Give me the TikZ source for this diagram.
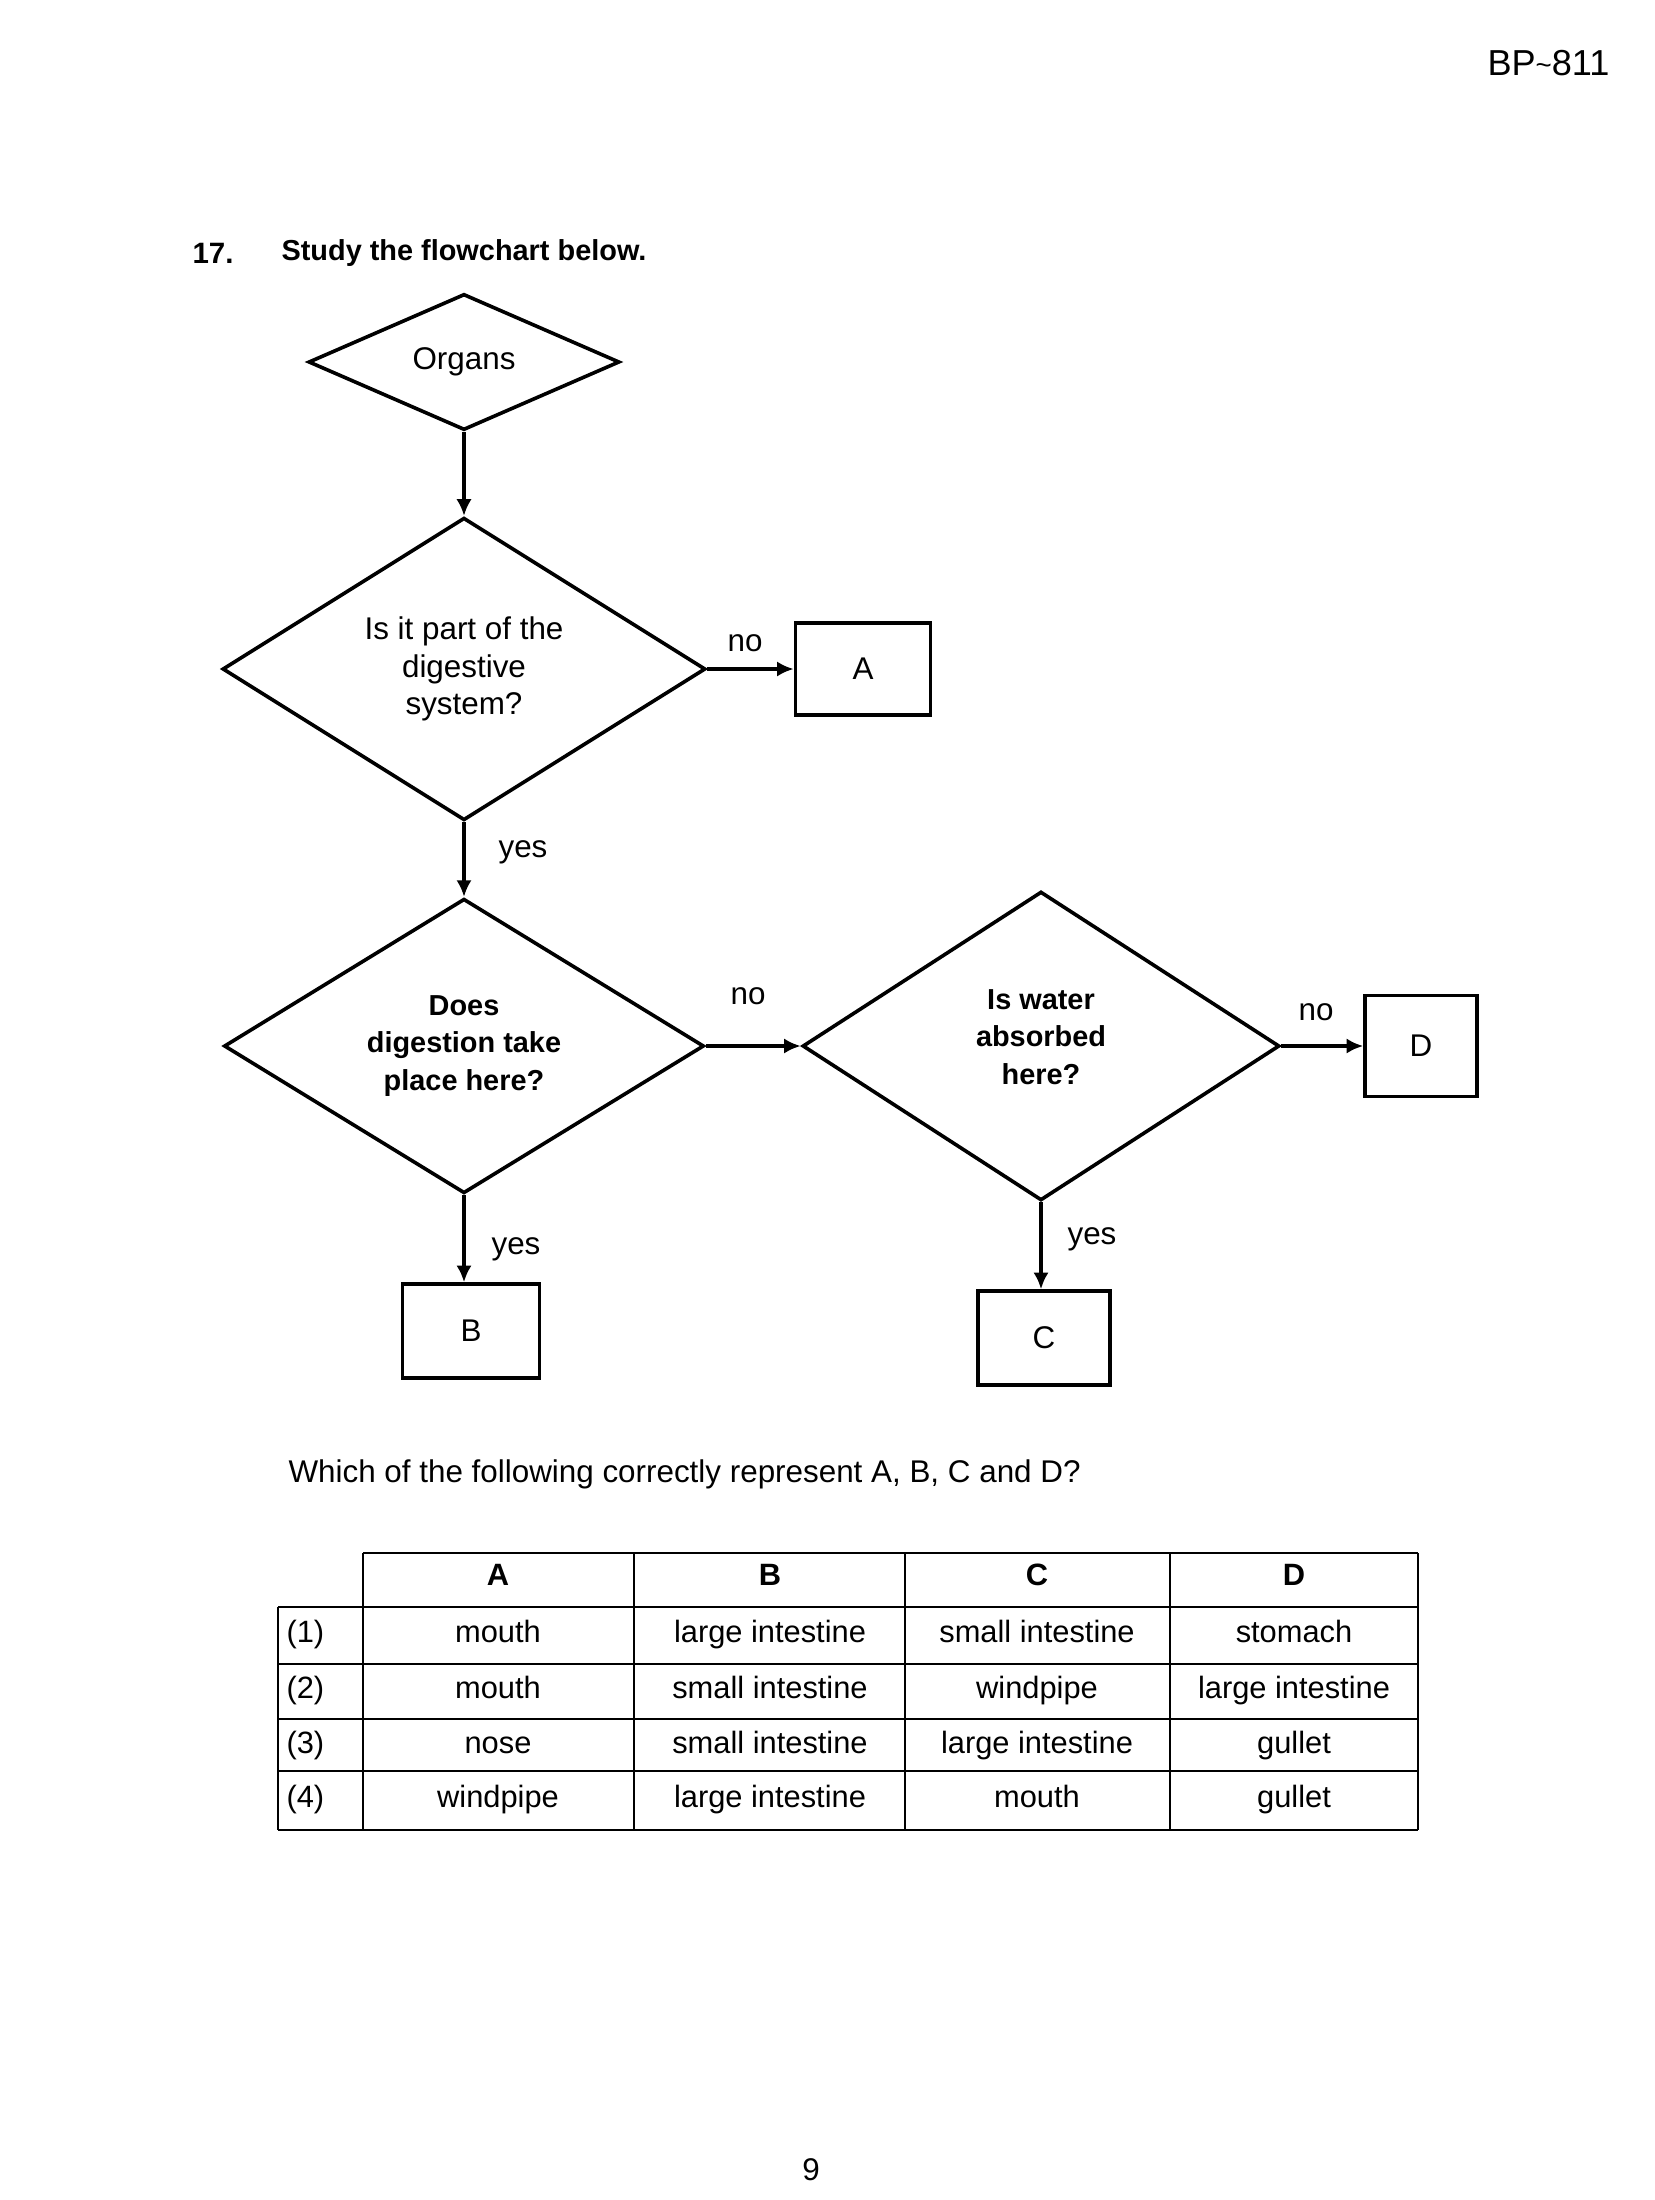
\documentclass[tikz,border=0pt]{standalone}
\usepackage{fontspec}
\setmainfont{Liberation Sans}
\usetikzlibrary{shapes.geometric,arrows.meta}
\begin{document}
\begin{tikzpicture}[x=0.36pt,y=-0.36pt,
  every node/.style={font=\fontsize{11.3}{13.4}\selectfont},
  dia/.style={draw, line width=1.3pt, shape=diamond, inner sep=0pt, align=center},
  boldtext/.style={font=\fontsize{10.4}{13.4}\selectfont\bfseries},
  box/.style={draw, line width=1.3pt, inner sep=0pt},
  arr/.style={line width=1.3pt, -{Latex[length=6pt,width=5.5pt]}},
  lbl/.style={inner sep=0pt},
  tline/.style={line width=0.9pt},
  cell/.style={inner sep=0pt, text height=8pt, text depth=2.5pt, font=\fontsize{11.1}{13}\selectfont},
  head/.style={cell, font=\fontsize{11.1}{13}\selectfont\bfseries}]
\useasboundingbox (0,0) rectangle (1654,2200);

% header
\node[lbl, anchor=east, font=\fontsize{13}{15}\selectfont] (code) at (1610,63) {BP{\fontsize{10}{10}\selectfont\raisebox{0.5pt}{\textasciitilde}}811};
\node[lbl, anchor=west, font=\fontsize{10.6}{13}\selectfont\bfseries] (num) at (192,253) {17.};
\node[lbl, anchor=west, font=\fontsize{10.4}{13}\selectfont\bfseries] (title) at (281,253) {Study the flowchart below.};

% flowchart
\node[dia, minimum width=112pt, minimum height=49pt] (org) at (464,362) {Organs};
\node[dia, minimum width=173.9pt, minimum height=99.4pt] (q1) at (464,669) {Is it part of the\\digestive\\system?};
\node[dia, boldtext, minimum width=172.8pt, minimum height=97.6pt] (q2) at (464,1046) {Does\\digestion take\\place here?};
\node[dia, minimum width=171.7pt, minimum height=111.2pt] (q3) at (1041,1046) {};
\node[boldtext, align=center, inner sep=0pt] (q3text) at (1041,1037) {Is water\\absorbed\\here?};

\node[box, minimum width=48.6pt, minimum height=33.1pt] (A) at (863,669) {A};
\node[box, minimum width=40.3pt, minimum height=36.4pt] (D) at (1421,1046) {D};
\node[box, minimum width=49.3pt, minimum height=33.8pt] (B) at (471,1331) {B};
\node[box, minimum width=47.5pt, minimum height=33.8pt] (C) at (1044,1338) {C};

\draw[arr] (org.south) -- (q1.north);
\draw[arr] (q1.east) -- (A.west);
\draw[arr] (q1.south) -- (q2.north);
\draw[arr] (q2.east) -- (q3.west);
\draw[arr] (q3.east) -- (D.west);
\draw[arr] (q2.south) -- (q2.south |- B.north);
\draw[arr] (q3.south) -- (q3.south |- C.north);

\node[lbl] (no1) at (745,643) {no};
\node[lbl] (yes1) at (523,852) {yes};
\node[lbl] (no2) at (748,996) {no};
\node[lbl] (no3) at (1316,1012) {no};
\node[lbl] (yes2) at (516,1249) {yes};
\node[lbl] (yes3) at (1092,1239) {yes};

% question
\node[lbl, anchor=west] (quest) at (288,1474) {Which of the following correctly represent A, B, C and D?};

% table
\draw[tline] (363,1553) -- (1418,1553);
\foreach \yy in {1607,1664,1719,1771,1830} \draw[tline] (278,\yy) -- (1418,\yy);
\draw[tline] (278,1607) -- (278,1830);
\foreach \xx in {363,634,905,1170,1418} \draw[tline] (\xx,1553) -- (\xx,1830);

\node[head] (hA) at (498,1578) {A};
\node[head] (hB) at (770,1578) {B};
\node[head] (hC) at (1037,1578) {C};
\node[head] (hD) at (1294,1578) {D};

\node[cell, anchor=west] (r1) at (286,1635) {(1)};
\node[cell, anchor=west] (r2) at (286,1691) {(2)};
\node[cell, anchor=west] (r3) at (286,1746) {(3)};
\node[cell, anchor=west] (r4) at (286,1800) {(4)};

\node[cell] (a1) at (498,1635) {mouth};
\node[cell] (b1) at (770,1635) {large intestine};
\node[cell] (c1) at (1037,1635) {small intestine};
\node[cell] (d1) at (1294,1635) {stomach};

\node[cell] (a2) at (498,1691) {mouth};
\node[cell] (b2) at (770,1691) {small intestine};
\node[cell] (c2) at (1037,1691) {windpipe};
\node[cell] (d2) at (1294,1691) {large intestine};

\node[cell] (a3) at (498,1746) {nose};
\node[cell] (b3) at (770,1746) {small intestine};
\node[cell] (c3) at (1037,1746) {large intestine};
\node[cell] (d3) at (1294,1746) {gullet};

\node[cell] (a4) at (498,1800) {windpipe};
\node[cell] (b4) at (770,1800) {large intestine};
\node[cell] (c4) at (1037,1800) {mouth};
\node[cell] (d4) at (1294,1800) {gullet};

\node[lbl] (page) at (811,2170) {9};
\end{tikzpicture}
\end{document}
